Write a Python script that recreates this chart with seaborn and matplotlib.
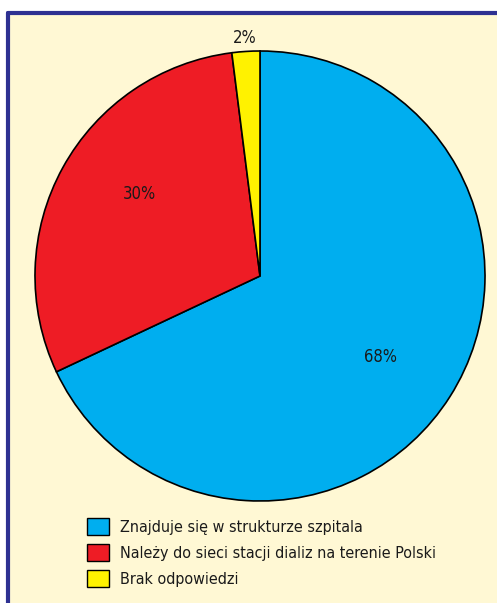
import matplotlib
matplotlib.use("Agg")
import matplotlib.pyplot as plt
import matplotlib.patches as mpatches
from matplotlib.lines import Line2D
import numpy as np
import seaborn as sns

sns.set_theme(style="white")
plt.rcParams['font.family'] = ['DejaVu Sans']
plt.rcParams['font.stretch'] = 'condensed'

categories = ["Znajduje się w strukturze szpitala",
              "Należy do sieci stacji dializ na terenie Polski",
              "Brak odpowiedzi"]
values = [68, 30, 2]
labels_pct = ["68%", "30%", "2%"]
colors = ["#00AEEF", "#EE1C25", "#FFF200"]

W, H = 497, 603
fig = plt.figure(figsize=(W / 100, H / 100), dpi=100)
fig.patch.set_facecolor("white")

# background panel with blue border (top & left)
bg = mpatches.Rectangle((8 / W, 0), 1, 1 - 13 / H, transform=fig.transFigure,
                        facecolor="#FFF8D4", edgecolor="none", zorder=-2)
fig.patches.append(bg)
fig.add_artist(Line2D([8 / W, 1], [1 - 13 / H, 1 - 13 / H], transform=fig.transFigure,
                      color="#2E3192", lw=3, zorder=-1))
fig.add_artist(Line2D([8 / W, 8 / W], [0, 1 - 13 / H], transform=fig.transFigure,
                      color="#2E3192", lw=3, zorder=-1))

cx, cy, r = 260, 276, 225
ax = fig.add_axes([(cx - r) / W, 1 - (cy + r) / H, 2 * r / W, 2 * r / H])
ax.set_zorder(2)
ax.set_facecolor("none")
wedges, texts = ax.pie(values, colors=colors, startangle=90, counterclock=False,
                       wedgeprops=dict(edgecolor="black", linewidth=1.2))
ax.set_xlim(-1, 1)
ax.set_ylim(-1, 1)
ax.set_aspect("auto")
ax.axis("off")

# percentage labels
dists = [0.645, 0.65, 1.06]
ang_off = [-1.5, -5.5, 0]
for w, lab, d, o in zip(wedges, labels_pct, dists, ang_off):
    ang = np.deg2rad((w.theta1 + w.theta2) / 2 + o)
    ax.text(d * np.cos(ang), d * np.sin(ang), lab, ha="center", va="center",
            fontsize=12, color="#1a1a1a", clip_on=False)

handles = [mpatches.Patch(facecolor=c, edgecolor="black", linewidth=1.0) for c in colors]
leg = fig.legend(handles, categories, loc="upper left",
                 bbox_to_anchor=(81 / W, 1 - 512 / H), frameon=False,
                 fontsize=11.5, handlelength=1.37, handleheight=1.22,
                 labelspacing=0.58, handletextpad=0.7, borderaxespad=0)
leg.set_zorder(3)
for t in leg.get_texts():
    t.set_color("#1a1a1a")

fig.savefig("out.png", dpi=100, facecolor=fig.get_facecolor())
